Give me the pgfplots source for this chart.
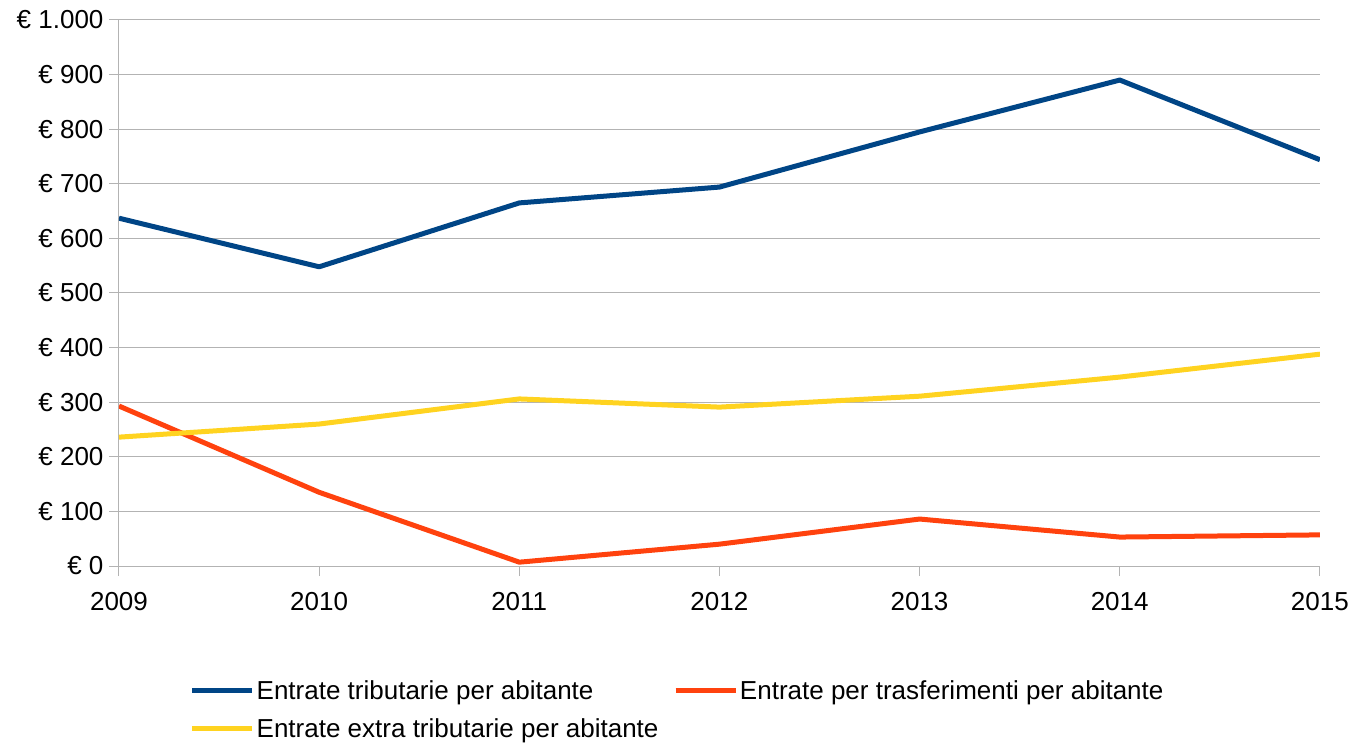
\documentclass[border=0pt]{standalone}
\usepackage{pgfplots}
\pgfplotsset{compat=1.18}
\usepackage{fontspec}
\setmainfont{Liberation Sans}
\definecolor{cblue}{HTML}{004586}
\definecolor{corange}{HTML}{FF420E}
\definecolor{cyellow}{HTML}{FFD320}
\definecolor{cgrid}{HTML}{B3B3B3}
\begin{document}
\begin{tikzpicture}
\path[use as bounding box] (-119pt,-181pt) rectangle (1235pt,566pt);
\begin{axis}[
  at={(0pt,0pt)}, anchor=south west,
  scale only axis, width=1201pt, height=546pt,
  xmin=2009, xmax=2015, ymin=0, ymax=1000,
  xtick={2009,...,2015},
  xticklabels={2009,2010,2011,2012,2013,2014,2015},
  ytick={0,100,...,1000},
  yticklabels={€ 0,€ 100,€ 200,€ 300,€ 400,€ 500,€ 600,€ 700,€ 800,€ 900,€ 1.000},
  ymajorgrids, grid style={cgrid, line width=1pt},
  axis line style={cgrid, line width=1pt},
  axis x line*=bottom, axis y line*=left,
  tick style={cgrid, line width=1pt},
  tick align=outside, major tick length=10pt,
  ticklabel style={font=\fontsize{26}{30}\selectfont, text=black},
  xticklabel style={yshift=-13pt},
  yticklabel style={xshift=-2pt},
  legend columns=2,
  legend cell align=left,
  legend style={draw=none, at={(71pt,-112pt)}, anchor=north west,
    font=\fontsize{26}{30}\selectfont,
    /tikz/every even column/.append style={column sep=13pt},
    row sep=14pt, inner sep=0pt},
  legend image code/.code={\draw[#1, line width=4.5pt] (0pt,0pt) -- (60pt,0pt);},
  every axis plot/.append style={line width=5pt, line join=round},
]
\addplot[cblue, no markers] coordinates {(2009,637) (2010,548) (2011,665) (2012,694) (2013,795) (2014,890) (2015,744)};
\addlegendentry{Entrate tributarie per abitante}
\addplot[corange, no markers] coordinates {(2009,293) (2010,135) (2011,7) (2012,40) (2013,86) (2014,53) (2015,57)};
\addlegendentry{Entrate per trasferimenti per abitante}
\addplot[cyellow, no markers] coordinates {(2009,236) (2010,260) (2011,306) (2012,291) (2013,311) (2014,346) (2015,388)};
\addlegendentry{Entrate extra tributarie per abitante}
\end{axis}
\end{tikzpicture}
\end{document}
